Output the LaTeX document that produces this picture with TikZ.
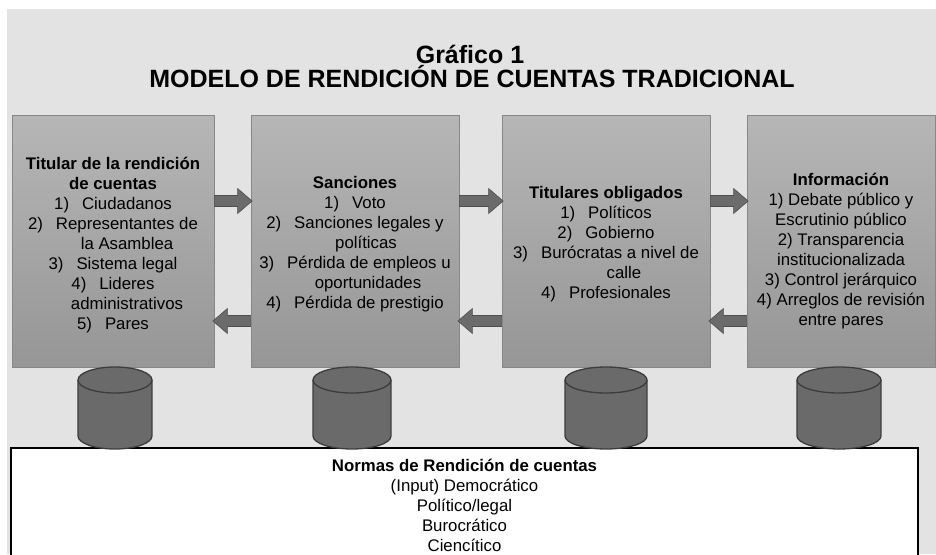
\documentclass[tikz,border=0pt]{standalone}
\usepackage{fontspec}
\setmainfont{Liberation Sans}
\usetikzlibrary{calc}
\definecolor{bg}{HTML}{E3E3E3}
\definecolor{boxtop}{HTML}{B6B6B6}
\definecolor{boxbot}{HTML}{969696}
\definecolor{boxedge}{HTML}{888888}
\definecolor{arrfill}{HTML}{6B6B6B}
\definecolor{arredge}{HTML}{4E4E4E}
\definecolor{cylfill}{HTML}{6A6A6A}
\definecolor{cyledge}{HTML}{3C3C3C}
\newcommand{\itm}[1]{#1\hspace{13pt}}
\newcommand{\ind}[1]{\hspace*{#1pt}}
\newcommand{\rarrow}[3]{%
  \path (#1.east |- 0,#3) coordinate (as) (#2.west |- 0,#3) coordinate (ae);
  \draw[blockarr] ($(as)+(0,-5.5)$) -- ($(ae)+(-13,-5.5)$) -- ($(ae)+(-13,-12.5)$)
    -- ($(ae)+(1.5,0)$) -- ($(ae)+(-13,12.5)$) -- ($(ae)+(-13,5.5)$) -- ($(as)+(0,5.5)$) -- cycle;}
\newcommand{\larrow}[3]{%
  \path (#1.west |- 0,#3) coordinate (as) (#2.east |- 0,#3) coordinate (ae);
  \draw[blockarr] ($(as)+(0,-5.5)$) -- ($(ae)+(13,-5.5)$) -- ($(ae)+(13,-12.5)$)
    -- ($(ae)+(-1.5,0)$) -- ($(ae)+(13,12.5)$) -- ($(ae)+(13,5.5)$) -- ($(as)+(0,5.5)$) -- cycle;}
\newcommand{\cyl}[2]{% center x, x radius
  \fill[cylfill] (#1-#2,380) rectangle (#1+#2,436);
  \fill[cylfill] (#1,436) ellipse [x radius=#2pt, y radius=13pt];
  \draw[cylline] (#1-#2,380) -- (#1-#2,436) arc[start angle=180, end angle=360, x radius=#2pt, y radius=13pt] -- (#1+#2,380);
  \draw[cylline, fill=cylfill] (#1,380) ellipse [x radius=#2pt, y radius=13pt];}
\begin{document}
\begin{tikzpicture}[x=1pt,y=-1pt,
  panel/.style={draw=boxedge, line width=0.8pt, top color=boxtop, bottom color=boxbot, inner sep=0pt},
  txt/.style={align=center, inner sep=0pt, font=\fontsize{16.8}{20}\selectfont},
  blockarr/.style={fill=arrfill, draw=arredge, line width=0.6pt, line join=miter},
  cylline/.style={draw=cyledge, line width=1.3pt},
  ttl/.style={anchor=base, inner sep=0pt, font=\bfseries\fontsize{25}{24}\selectfont}]
\useasboundingbox (0,0) rectangle (936,554);
\fill[bg] (7,9) rectangle (936,554);
% title
\node[ttl] (title1) at (470,63) {Gráfico 1};
\node[ttl] (title2) at (472,87) {MODELO DE RENDICIÓN DE CUENTAS TRADICIONAL};
% panels
\node[panel, minimum width=202pt, minimum height=252pt] (p1) at (113,241) {};
\node[panel, minimum width=208pt, minimum height=252pt] (p2) at (355,241) {};
\node[panel, minimum width=208pt, minimum height=252pt] (p3) at (606,241) {};
\node[panel, minimum width=188pt, minimum height=252pt] (p4) at (841,241) {};
% texts
\node[txt] (t1) at (113,245) {\textbf{Titular de la rendición}\\ \textbf{de cuentas}\\
  \itm{1)}Ciudadanos\\ \itm{2)}Representantes de\\ \ind{28}la Asamblea\\
  \itm{3)}Sistema legal\\ \itm{4)}Lideres\\ \ind{28}administrativos\\ \itm{5)}Pares};
\node[txt] (t2) at (355,244) {\textbf{Sanciones}\\ \itm{1)}Voto\\ \itm{2)}Sanciones legales y\\
  \ind{22}políticas\\ \itm{3)}Pérdida de empleos u\\ \ind{26}oportunidades\\ \itm{4)}Pérdida de prestigio};
\node[txt] (t3) at (606,244) {\textbf{Titulares obligados}\\ \itm{1)}Políticos\\ \itm{2)}Gobierno\\
  \itm{3)}Burócratas a nivel de\\ \ind{36}calle\\ \itm{4)}Profesionales};
\node[txt] (t4) at (841,251) {\textbf{Información}\\ 1) Debate público y\\ Escrutinio público\\
  2) Transparencia\\ institucionalizada\\ 3) Control jerárquico\\ 4) Arreglos de revisión\\ entre pares};
% arrows
\rarrow{p1}{p2}{201}
\rarrow{p2}{p3}{201}
\rarrow{p3}{p4}{201}
\larrow{p2}{p1}{321}
\larrow{p3}{p2}{321}
\larrow{p4}{p3}{321}
% bottom box
\draw[black, line width=2pt, fill=white] (11,448) rectangle (918,580);
\node[txt] (norms) at (464.5,505) {\textbf{Normas de Rendición de cuentas}\\ (Input) Democrático\\
  Político/legal\\ Burocrático\\ Ciencítico};
% cylinders
\cyl{115}{37}
\cyl{352}{39}
\cyl{606}{41}
\cyl{839}{42}
\end{tikzpicture}
\end{document}
